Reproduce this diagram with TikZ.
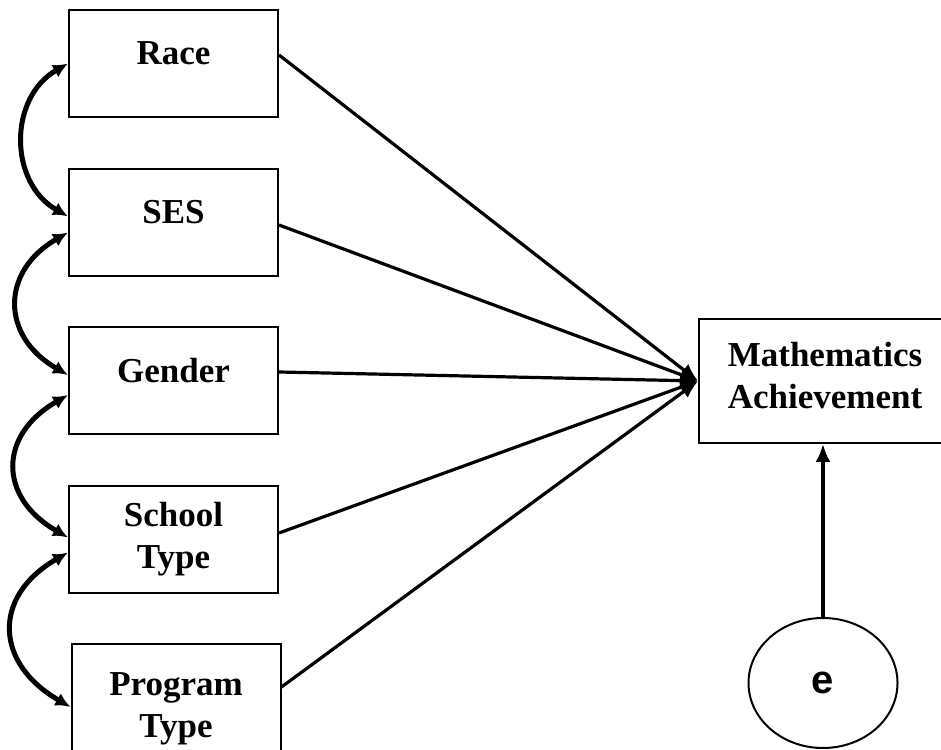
\documentclass[tikz,border=0pt]{standalone}
\usepackage{fontspec}
\setmainfont{Liberation Serif}
\newfontfamily\errfont{Liberation Sans}
\usetikzlibrary{arrows.meta,shapes.geometric}

\begin{document}
\begin{tikzpicture}[x=1pt,y=1pt,
  var/.style={draw,line width=2pt,minimum width=209pt,minimum height=107pt,inner sep=0pt,align=center,font=\fontsize{35}{42}\selectfont\bfseries},
  single/.style={text height=25pt,text depth=22pt},
  effect/.style={line width=3.2pt,-{Latex[length=18pt,width=15pt]}},
  cov/.style={line width=5pt,{Latex[length=15pt,width=14pt]}-{Latex[length=15pt,width=14pt]}}]
\useasboundingbox (0,0) rectangle (941,749);
\node [var,single] (race) at (173.5,685.5) {Race};
\node [var,single] (ses) at (173.5,526.5) {SES};
\node [var,single] (gender) at (173.5,368) {Gender};
\node [var] (school) at (173.5,209.5) {School\\Type};
\node [var,minimum height=130pt] (program) at (176,40) {Program\\Type};
\node [var,minimum width=252pt,minimum height=124pt,text depth=12pt] (math) at (825,368) {Mathematics\\Achievement};
\node [draw,ellipse,line width=2pt,minimum width=149pt,minimum height=130pt,inner sep=0pt,font=\errfont\fontsize{40}{48}\selectfont\bfseries] (e) at (823,66) {e};

\draw [effect] ([yshift=8.5pt]race.east) -- (math.west);
\draw [effect] ([yshift=-2.5pt]ses.east) -- (math.west);
\draw [effect] ([yshift=9pt]gender.east) -- (math.west);
\draw [effect] ([yshift=6.5pt]school.east) -- (math.west);
\draw [effect] ([yshift=22pt]program.east) -- (math.west);
\draw [effect] (e.north) -- (e.north |- math.south);

\draw [cov] (race.west) to[out=210,in=150,looseness=1.15] ([yshift=6pt]ses.west);
\draw [cov] ([yshift=-10pt]ses.west) to[out=210,in=150,looseness=1.4] ([yshift=6pt]gender.west);
\draw [cov] ([yshift=-14pt]gender.west) to[out=210,in=150,looseness=1.45] ([yshift=2pt]school.west);
\draw [cov] ([yshift=-13pt]school.west) to[out=210,in=150,looseness=1.45] ([yshift=2pt]program.west);
\end{tikzpicture}
\end{document}
